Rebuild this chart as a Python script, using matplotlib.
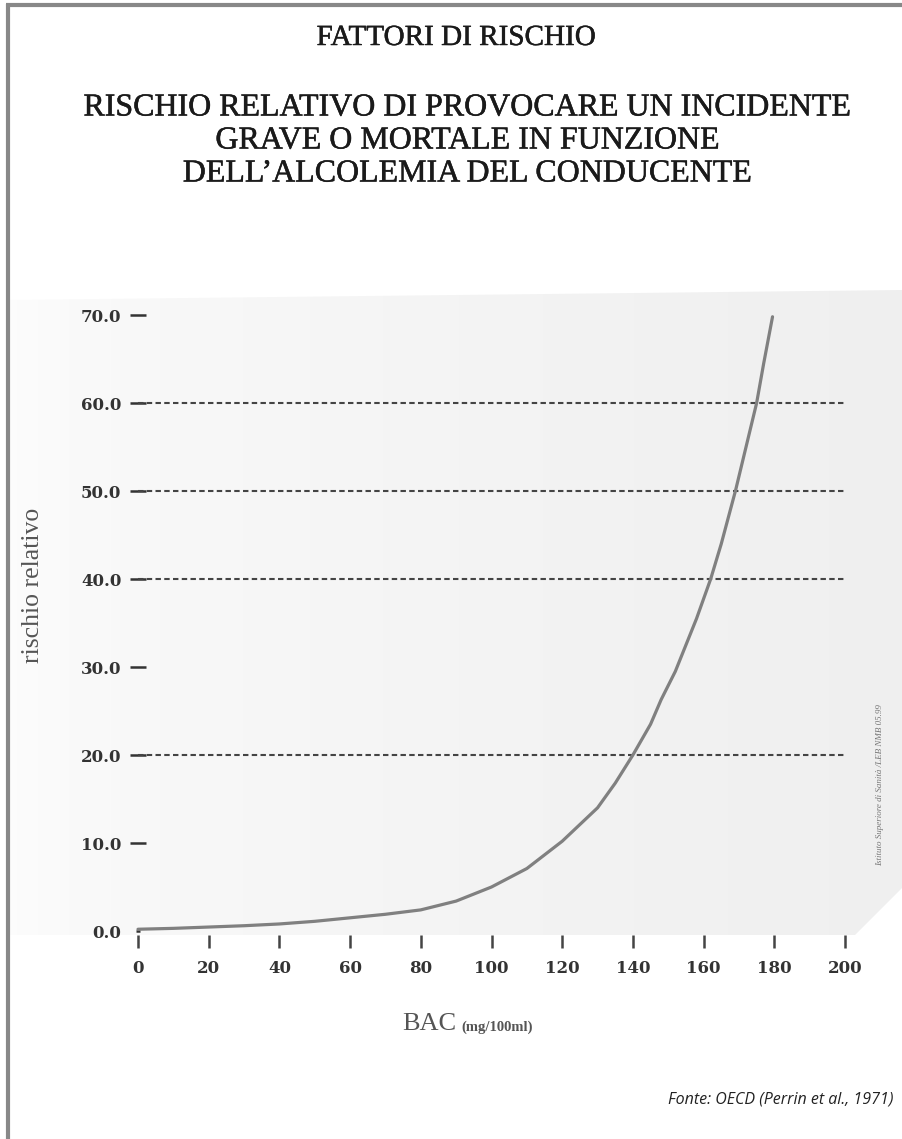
import matplotlib.pyplot as plt
import matplotlib.patheffects as pe
import numpy as np
from matplotlib.patches import Polygon

# values
bac = [0, 10, 20, 30, 40, 50, 60, 70, 80, 90, 100, 110, 120, 130, 135, 140,
       145, 148, 152, 155, 158, 162, 165, 169, 172, 175, 177, 179.5]
risk = [0.2, 0.3, 0.45, 0.6, 0.8, 1.1, 1.5, 1.9, 2.4, 3.4, 5.0, 7.1, 10.2,
        14.0, 16.8, 20.0, 23.5, 26.3, 29.5, 32.5, 35.5, 40.0, 44.0, 50.0,
        55.0, 60.0, 64.5, 69.8]
grid_levels = [20, 40, 50, 60]
y_ticks = [0, 10, 20, 30, 40, 50, 60, 70]
x_ticks = [0, 20, 40, 60, 80, 100, 120, 140, 160, 180, 200]

W, H = 902, 1139
fig = plt.figure(figsize=(W / 100, H / 100), dpi=100)
fig.patch.set_facecolor('white')

# scanned page background: light grey gradient with a cut corner
bg = fig.add_axes([0, 0, 1, 1], zorder=0)
bg.set_xlim(0, W)
bg.set_ylim(H, 0)
bg.axis('off')
grad = np.linspace(0, 1, 256).reshape(1, -1) ** 0.6
im = bg.imshow(grad, cmap='Greys', vmin=-0.2, vmax=9, extent=[10, W, 935, 290],
               aspect='auto')
clip = Polygon([[10, 300], [W, 290], [W, 888], [855, 935], [10, 935]],
               closed=True, transform=bg.transData, facecolor='none', edgecolor='none')
bg.add_patch(clip)
im.set_clip_path(clip)

# page frame (left and top)
bg.plot([8, 8], [4, H], color='#888888', lw=3, solid_capstyle='butt')
bg.plot([6, W], [5, 5], color='#888888', lw=3, solid_capstyle='butt')

serif = 'Liberation Serif'
heavy = [pe.withStroke(linewidth=0.35, foreground='#1a1a1a')]
fig.text(456 / W, 1 - 38 / H, 'FATTORI DI RISCHIO', family=serif, fontsize=21,
         ha='center', va='center', color='#1a1a1a', path_effects=heavy)
sub = ['RISCHIO RELATIVO DI PROVOCARE UN INCIDENTE',
       'GRAVE O MORTALE IN FUNZIONE',
       "DELL\u2019ALCOLEMIA DEL CONDUCENTE"]
for i, line in enumerate(sub):
    fig.text(468 / W, 1 - (108 + 33 * i) / H, line, family=serif, fontsize=23,
             ha='center', va='center', color='#1a1a1a', path_effects=heavy)

x0, x1, y0, y1 = 138, 845, 931, 315
ax = fig.add_axes([x0 / W, 1 - y0 / H, (x1 - x0) / W, (y0 - y1) / H], zorder=2)
ax.patch.set_alpha(0)
ax.set_xlim(0, 200)
ax.set_ylim(0, 70)
for s in ax.spines.values():
    s.set_visible(False)
ax.spines['bottom'].set_position(('outward', 3))

ax.hlines(grid_levels, 0, 200.5, colors='#444444', linestyles=(0, (2.6, 1.6)), lw=1.5)
ax.plot(bac, risk, color='#808080', lw=2.3, clip_on=False,
        solid_capstyle='round', solid_joinstyle='round')

tick_font = dict(family='DejaVu Serif', fontweight='bold', fontsize=12, color='#333333')
ax.set_yticks(y_ticks)
ax.set_yticklabels(['%.1f' % v for v in y_ticks], **tick_font)
ax.tick_params(axis='y', direction='inout', length=12, width=1.8, color='#333333', pad=6)
ax.set_xticks(x_ticks)
ax.set_xticklabels([str(v) for v in x_ticks], **tick_font)
ax.tick_params(axis='x', direction='out', length=9, width=1.8, color='#444444', pad=9)
ax.yaxis.get_major_ticks()[0].tick1line.set_markersize(3)

fig.text(33 / W, 1 - 585 / H, 'rischio relativo', family=serif, fontsize=18.5,
         rotation=90, ha='center', va='center', color='#555555')
fig.text(456 / W, 1 - 1024 / H, 'BAC', family=serif, fontsize=19,
         ha='right', va='center', color='#555555')
fig.text(461 / W, 1 - 1027 / H, '(mg/100ml)', family=serif, fontsize=10.5,
         fontweight='bold', ha='left', va='center', color='#555555')
fig.text(880 / W, 1 - 785 / H, 'Istituto Superiore di Sanit\u00e0 /LEB NMB 05.99',
         family=serif, style='italic', fontsize=6.5, rotation=90,
         ha='center', va='center', color='#777777')

fig.text(893 / W, 1 - 1100 / H, 'Fonte: OECD (Perrin et al., 1971)', family='Open Sans',
         style='italic', fontsize=11.5, ha='right', va='center', color='#222222')

fig.savefig('out.png', dpi=100)
